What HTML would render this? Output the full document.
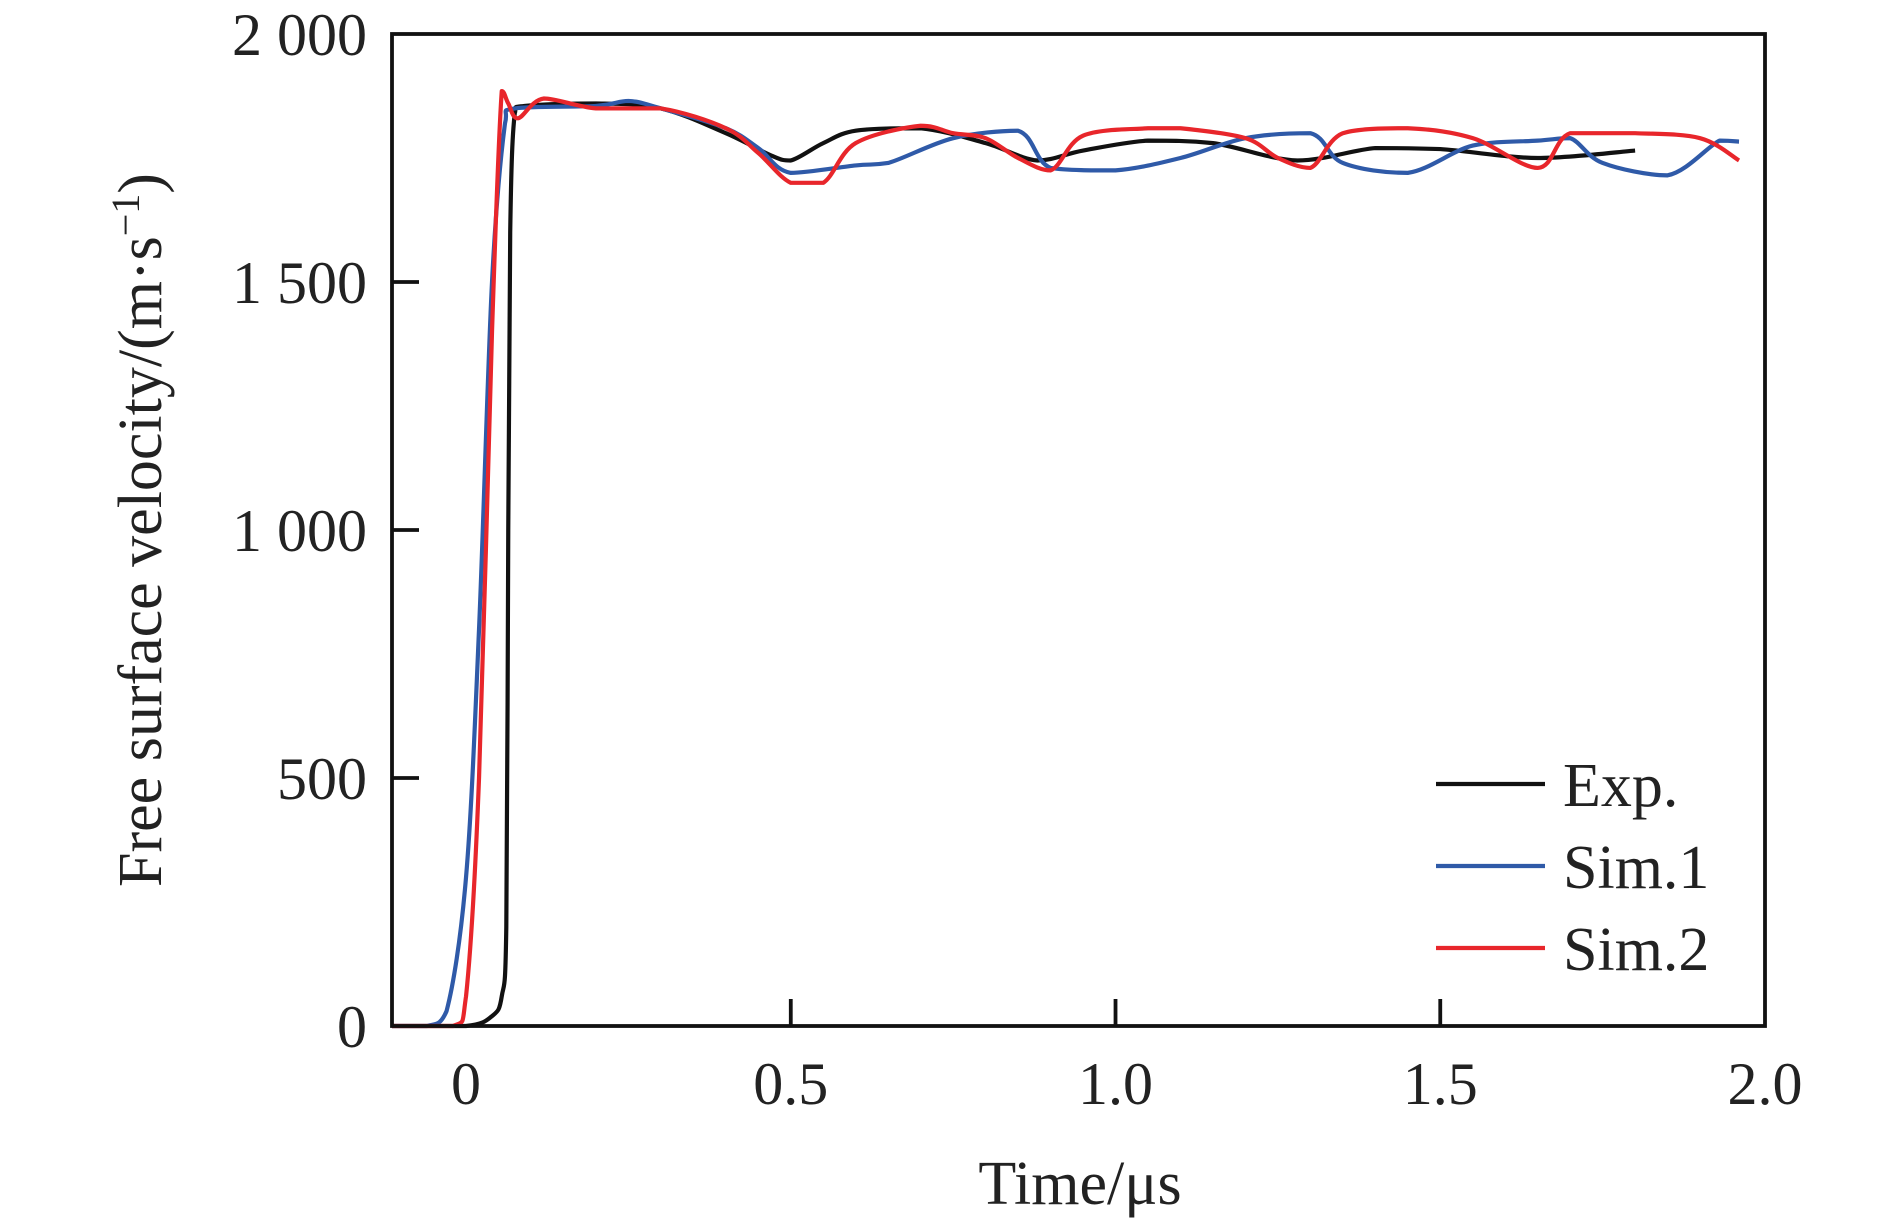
<!DOCTYPE html>
<html><head><meta charset="utf-8"><style>
body{margin:0;background:#fff}
svg{display:block;font-family:"Liberation Serif",serif}
</style></head><body>
<svg width="1890" height="1221" viewBox="0 0 1890 1221">
<g id="plot"></g>
</svg>
<script>
const xTicks=[0,0.5,1.0,1.5,2.0];
const xTickLabels=["0","0.5","1.0","1.5","2.0"];
const yTicks=[0,500,1000,1500,2000];
const yTickLabels=["0","500","1 000","1 500","2 000"];
const seriesNames=["Exp.","Sim.1","Sim.2"];
const seriesColors=["#111111","#2f5aa8","#e8262b"];
const expT=[-0.114,0,0.04,0.055,0.062,0.065,0.068,0.075,0.09,0.2,0.3,0.4,0.47,0.5,0.55,0.6,0.7,0.8,0.88,0.95,1.05,1.15,1.28,1.4,1.5,1.65,1.8];
const expV=[0,0,20,60,200,1000,1600,1840,1855,1860,1850,1800,1755,1745,1780,1805,1810,1780,1745,1765,1785,1780,1745,1770,1768,1750,1765];
const sim1T=[-0.114,-0.06,-0.03,0,0.02,0.04,0.06,0.075,0.2,0.25,0.3,0.4,0.45,0.5,0.6,0.65,0.75,0.85,0.9,1.0,1.1,1.2,1.3,1.35,1.45,1.55,1.65,1.7,1.75,1.85,1.93,1.96];
const sim1V=[0,0,30,300,800,1500,1820,1850,1855,1865,1850,1810,1770,1720,1735,1740,1790,1805,1730,1725,1750,1790,1800,1740,1720,1775,1785,1790,1740,1715,1785,1783];
const sim2T=[-0.114,-0.02,0.0,0.02,0.04,0.055,0.065,0.08,0.12,0.2,0.3,0.4,0.45,0.5,0.55,0.6,0.7,0.75,0.8,0.85,0.9,0.95,1.05,1.1,1.2,1.25,1.3,1.35,1.45,1.55,1.65,1.7,1.8,1.9,1.96];
const sim2V=[0,0,60,500,1400,1885,1860,1830,1870,1850,1850,1810,1760,1700,1700,1780,1815,1800,1790,1750,1725,1795,1810,1810,1790,1750,1730,1800,1810,1790,1730,1800,1800,1790,1745];
const L=392,R=1765,T=34,B=1026,X0=-0.114,X1=2.0;
const sx=v=>L+(v-X0)/(X1-X0)*(R-L);
const sy=v=>B-v/2000*(B-T);
const NS="http://www.w3.org/2000/svg";
const g=document.getElementById('plot');
function mk(tag,attrs,parent){const e=document.createElementNS(NS,tag);for(const k in attrs)e.setAttribute(k,attrs[k]);(parent||g).appendChild(e);return e;}
function smooth(ts,vs){const p=ts.map((t,i)=>[sx(t),sy(vs[i])]);let d="M"+p[0][0]+","+p[0][1];
const cl=(y,a,b)=>Math.max(Math.min(a,b),Math.min(Math.max(a,b),y));
for(let i=0;i<p.length-1;i++){const p0=p[Math.max(0,i-1)],p1=p[i],p2=p[i+1],p3=p[Math.min(p.length-1,i+2)];
const c1=[p1[0]+(p2[0]-p0[0])/6,cl(p1[1]+(p2[1]-p0[1])/6,p1[1],p2[1])],c2=[p2[0]-(p3[0]-p1[0])/6,cl(p2[1]-(p3[1]-p1[1])/6,p1[1],p2[1])];
d+=" C"+c1+" "+c2+" "+p2;}return d;}
const series=[[expT,expV],[sim1T,sim1V],[sim2T,sim2V]];
[0,1,2].forEach(i=>{const pth=mk('path',{d:smooth(series[i][0],series[i][1]),fill:'none',stroke:seriesColors[i],'stroke-width':4.2,'stroke-linejoin':'round'});

});
const frame=mk('rect',{x:L,y:T,width:R-L,height:B-T,fill:'none',stroke:'#111','stroke-width':3.8});


xTicks.forEach((v,i)=>{if(v>0&&v<2){const t=mk('line',{x1:sx(v),x2:sx(v),y1:B,y2:B-27,stroke:'#111','stroke-width':3.8});

}
const tx=mk('text',{x:sx(v),y:1104,'text-anchor':'middle','font-size':60,fill:'#222'});tx.textContent=xTickLabels[i];

});
yTicks.forEach((v,i)=>{if(v>0&&v<2000){const t=mk('line',{x1:L,x2:L+27,y1:sy(v),y2:sy(v),stroke:'#111','stroke-width':3.8});

}
const tx=mk('text',{x:367,y:sy(v)+21,'text-anchor':'end','font-size':60,fill:'#222'});tx.textContent=yTickLabels[i];

});
const xt=mk('text',{x:1080,y:1204,'text-anchor':'middle','font-size':62,fill:'#222'});xt.textContent="Time/μs";


const yt=mk('text',{x:0,y:0,transform:'translate(161,530) rotate(-90)','text-anchor':'middle','font-size':62,fill:'#222'});
yt.innerHTML='Free surface velocity/(m·s<tspan dy="-22" font-size="40">−1</tspan><tspan dy="22">)</tspan>';


const legY=[784,866,948];
seriesNames.forEach((n,i)=>{const l=mk('line',{x1:1436,x2:1545,y1:legY[i],y2:legY[i],stroke:seriesColors[i],'stroke-width':4.2});


const t=mk('text',{x:1563,y:legY[i]+22,'font-size':62,fill:'#222'});t.textContent=n;

});
</script>
</body></html>
